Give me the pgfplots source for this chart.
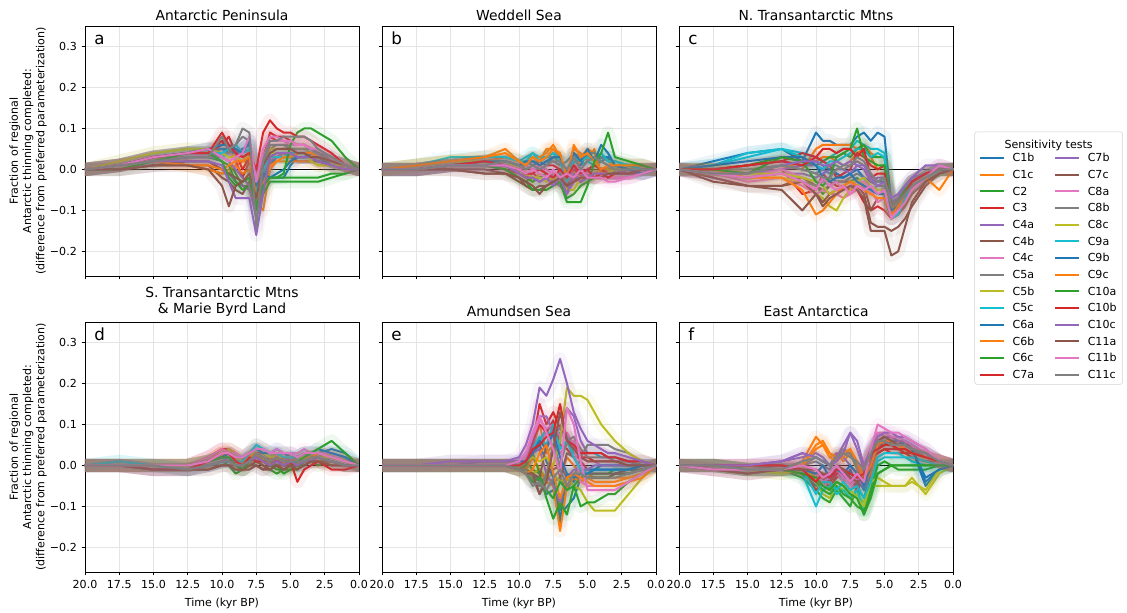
\documentclass[border=0pt]{standalone}
\usepackage{fontspec}
\setmainfont{DejaVu Sans}
\usepackage{pgfplots}
\usepackage{pgfplotstable}
\pgfplotsset{compat=1.18}
\usepgfplotslibrary{groupplots}

\definecolor{tabblue}{HTML}{1F77B4}
\definecolor{taborange}{HTML}{FF7F0E}
\definecolor{tabgreen}{HTML}{2CA02C}
\definecolor{tabred}{HTML}{D62728}
\definecolor{tabpurple}{HTML}{9467BD}
\definecolor{tabbrown}{HTML}{8C564B}
\definecolor{tabpink}{HTML}{E377C2}
\definecolor{tabgray}{HTML}{7F7F7F}
\definecolor{tabolive}{HTML}{BCBD22}
\definecolor{tabcyan}{HTML}{17BECF}
\colorlet{c1}{tabblue}\colorlet{c2}{taborange}\colorlet{c3}{tabgreen}\colorlet{c4}{tabred}\colorlet{c5}{tabpurple}
\colorlet{c6}{tabbrown}\colorlet{c7}{tabpink}\colorlet{c8}{tabgray}\colorlet{c9}{tabolive}\colorlet{c10}{tabcyan}
\colorlet{c11}{tabblue}\colorlet{c12}{taborange}\colorlet{c13}{tabgreen}\colorlet{c14}{tabred}\colorlet{c15}{tabpurple}
\colorlet{c16}{tabbrown}\colorlet{c17}{tabpink}\colorlet{c18}{tabgray}\colorlet{c19}{tabolive}\colorlet{c20}{tabcyan}
\colorlet{c21}{tabblue}\colorlet{c22}{taborange}\colorlet{c23}{tabgreen}\colorlet{c24}{tabred}\colorlet{c25}{tabpurple}
\colorlet{c26}{tabbrown}\colorlet{c27}{tabpink}\colorlet{c28}{tabgray}

% values in hundredths (0.01) of the fraction; one row per sensitivity test
\pgfplotstableread[header=true]{
name 20 17.5 15 12.5 11 10 9.5 9 8.5 8 7.5 7 6.5 6 5.5 5 4.5 4 3.5 3 2 1 0
s1 0 1 3 4 5 5 4 4 5 6 -3 -1 -2 -2 -2 1 3 3 3 3 2 1 0
s2 0 1 3 1 0 -1 -1 1 2 2 -5 -1 3 3 3 3 3 3 3 2 2 1 0
s3 0 1 3 4 4 3 2 -1 -4 -4 -8 -4 -2 -2 -2 -2 -2 -2 -2 -2 -1 -1 0
s4 0 1 3 4 4 7 5 2 -2 2 -3 2 9 8 8 7 6 6 5 4 2 1 0
s5 0 0 1 2 2 0 -1 -3 -4 -5 -10 -3 4 4 4 3 3 3 3 2 1 0 0
s6 0 0 1 1 1 -2 -3 -5 -6 -3 -6 -1 2 3 3 3 2 2 2 2 1 0 0
s7 0 1 3 3 3 4 4 3 2 5 -4 1 6 6 6 5 5 5 4 4 2 1 0
s8 0 1 3 4 4 5 5 4 5 6 -5 0 5 6 6 6 6 6 5 4 3 1 0
s9 0 2 4 5 4 4 4 3 4 5 -2 0 5 5 5 5 5 5 4 4 2 1 0
s10 0 1 3 4 4 3 4 5 3 4 -4 -1 2 3 3 3 3 3 3 3 2 1 0
s11 0 1 3 4 5 5 5 4 5 6 -5 -2 1 3 4 4 4 4 3 3 1 1 0
s12 0 1 2 1 0 -1 0 1 -1 0 -8 -10 0 2 2 2 2 2 2 1 1 0 0
s13 0 1 2 3 3 2 1 -3 -5 -4 -10 -6 -3 -3 -3 -3 -3 -3 -3 -3 -2 -1 0
s14 0 1 3 4 4 6 8 4 0 3 -1 3 8 7 7 6 6 6 5 4 2 1 0
s15 0 1 2 3 3 3 2 0 -2 -4 -12 -5 2 3 4 4 3 3 3 3 2 1 0
s16 0 0 1 2 2 0 -1 -2 -3 -2 -7 0 3 4 4 4 3 3 3 2 1 1 0
s17 0 1 3 4 3 4 4 2 4 7 -2 3 7 7 7 6 6 6 5 4 2 1 0
s18 0 1 2 3 3 4 4 6 8 7 -9 1 6 6 6 5 5 5 5 4 2 1 0
s19 0 2 4 5 5 4 3 3 2 4 -6 1 4 4 4 4 4 4 2 1 1 1 0
s20 0 1 3 4 4 4 5 6 4 5 -6 0 3 3 3 4 4 4 4 3 2 1 0
s21 0 1 3 4 5 6 6 5 4 7 -4 -1 -2 -1 0 2 3 3 4 3 2 1 0
s22 0 1 2 1 1 0 1 2 2 3 -7 -4 1 2 3 3 4 4 4 3 2 1 0
s23 0 0 2 4 4 2 -2 -4 -3 -2 -9 -4 -2 -2 -1 6 9 10 10 9 7 3 0
s24 0 1 3 4 4 9 6 4 3 4 0 9 12 10 9 9 8 8 7 6 4 1 0
s25 0 1 2 2 2 1 -3 -7 -7 -7 -16 -6 3 4 4 4 3 3 3 2 1 0 0
s26 0 0 1 1 0 -4 -9 -4 -3 -1 -7 1 4 5 5 5 4 4 3 3 2 1 0
s27 0 1 3 4 5 3 2 3 4 8 -3 5 8 8 7 7 6 6 5 5 3 1 0
s28 0 1 2 3 3 8 5 6 10 9 -14 2 7 7 8 8 8 8 7 5 3 1 0
}\rawA
\pgfplotstableread[header=true]{
name 20 17.5 15 12.5 11 10 9.5 9 8.5 8 7.5 7 6.5 6 5.5 5 4.5 4 3.5 3 2 1 0
s1 0 0 1 2 2 1 2 1 2 1 3 2 -1 1 -2 0 1 2 3 -1 -1 -1 0
s2 0 1 2 3 5 2 1 3 2 5 5 3 -3 5 4 2 5 -1 0 1 1 0 0
s3 0 0 1 1 0 -2 -3 -2 -3 -2 -2 -1 -4 -3 -2 -2 -1 -1 -1 -1 -1 0 0
s4 0 0 1 1 0 -1 -2 -1 -2 -1 -2 -3 -1 -2 -3 -1 -2 -2 -1 -1 -1 -1 0
s5 0 0 1 1 1 0 -1 -2 -2 -3 -1 -2 -5 1 -2 -1 -2 -1 -1 -1 0 0 0
s6 0 0 0 -1 -1 -3 -4 -5 -4 -4 -3 -2 -3 -1 -2 -2 -1 -1 -1 -1 0 0 0
s7 0 0 1 1 1 0 -1 -1 1 0 -1 -2 0 -1 -2 -1 -2 -1 -2 -2 -2 -1 0
s8 0 0 1 2 2 1 1 2 1 2 2 1 2 4 2 3 3 2 1 1 1 1 0
s9 0 1 2 2 2 1 -2 -3 -1 -2 -3 -4 -5 0 -3 -1 -1 0 0 0 0 0 0
s10 0 1 3 3 3 2 3 4 3 3 4 3 -4 2 1 2 1 3 2 1 0 -1 0
s11 0 0 1 2 2 1 2 3 2 3 3 2 -2 3 1 4 2 3 3 1 0 -1 0
s12 0 1 2 2 3 2 2 3 3 4 6 3 -5 -2 3 5 4 -1 1 2 1 1 0
s13 0 0 1 1 1 -1 -2 -3 -2 -1 -2 -3 -7 -6 -4 -3 -2 -1 -1 -1 0 0 0
s14 0 0 1 2 2 1 0 1 0 1 1 0 -2 0 -1 0 1 0 -1 -1 0 0 0
s15 0 0 1 1 1 0 -1 -2 -3 -2 -3 -4 -6 -3 -2 -1 -1 -1 -1 -1 0 0 0
s16 0 0 0 0 -1 -2 -4 -5 -5 -4 -3 -3 -4 -2 -3 -2 -1 -1 -1 -1 -1 0 0
s17 0 0 1 1 1 0 1 0 1 -1 -2 -3 -3 1 0 -1 -1 -1 -2 -2 -2 -1 0
s18 0 0 1 2 2 1 1 2 2 3 3 2 -3 4 3 4 4 3 2 2 1 1 0
s19 0 1 2 2 2 0 -1 -2 -2 -3 -2 -3 -5 -5 -2 -2 -1 -1 -1 0 0 0 0
s20 0 1 2 3 3 2 2 4 2 3 4 2 -3 3 2 3 2 4 2 2 1 0 0
s21 0 0 1 2 2 1 2 2 1 2 3 3 -1 4 2 5 2 6 4 1 0 -1 0
s22 0 1 2 3 4 2 1 3 2 3 5 4 -2 6 3 4 2 0 1 1 1 1 0
s23 0 0 1 1 0 -2 -3 -5 -5 -5 -4 -3 -8 -8 -8 -4 2 4 9 3 2 1 0
s24 0 0 1 2 1 0 -1 -1 0 -1 -2 0 -2 1 -1 0 -2 -1 -2 -1 -1 0 0
s25 0 0 1 1 1 -1 -2 -2 -3 -2 -4 -2 -6 -1 -3 -2 -1 -1 -1 -1 -1 0 0
s26 0 0 0 -1 -1 -2 -3 -4 -6 -4 -3 -2 -4 -3 -2 -2 -2 -2 -1 -1 -1 0 0
s27 0 0 1 1 1 0 -1 0 -1 -2 0 -2 -1 -2 0 -2 -2 -2 -3 -3 -2 -1 0
s28 0 0 1 1 2 1 0 1 0 1 2 2 0 3 0 2 3 2 1 0 0 0 0
}\rawB
\pgfplotstableread[header=true]{
name 20 17.5 15 12.5 11 10 9.5 9 8.5 8 7.5 7 6.5 6 5.5 5 4.5 4 3.5 3 2 1 0
s1 0 2 4 5 2 9 7 7 6 6 6 8 9 7 9 8 -8 -7 -5 -3 -1 0 0
s2 0 0 -1 1 0 5 6 6 6 6 6 5 6 4 3 3 -9 -8 -6 -3 -1 0 0
s3 0 -1 -2 -1 -2 -4 -6 -4 -3 -3 -3 -2 -4 -6 -5 -5 -10 -9 -7 -4 -2 0 0
s4 0 0 -1 0 -6 -5 -1 -3 -4 -4 -5 -5 -8 -10 -9 -10 -12 -11 -8 -5 -2 0 0
s5 0 -1 -2 -1 -1 -2 -1 0 -1 -2 -1 -3 -2 -5 -4 -4 -10 -9 -6 -3 -1 0 0
s6 0 -2 -4 -4 -2 -4 -5 -4 -3 -3 -3 -3 -4 -10 -7 -7 -12 -11 -9 -6 -3 -1 0
s7 0 -1 -3 -2 -4 -6 -5 -6 -6 -7 -6 -5 -4 -6 -5 -5 -10 -9 -6 -3 -1 1 0
s8 0 -1 -2 -1 -3 -4 -3 -2 -3 -3 -2 -1 -2 -3 -4 -4 -9 -8 -6 -4 -2 0 0
s9 0 -1 -2 -2 -3 -6 -7 -9 -10 -7 -5 -4 -3 -5 -6 -6 -11 -10 -7 -4 -1 0 0
s10 0 1 4 5 4 3 2 3 4 5 5 7 6 5 5 4 -10 -9 -6 -3 -1 0 0
s11 0 0 1 2 1 2 1 0 -1 -2 -1 0 -2 -3 -3 -3 -8 -8 -6 -4 -2 0 0
s12 0 0 -1 0 2 2 3 3 2 1 2 4 5 3 0 1 -9 -9 -6 -3 -1 0 0
s13 0 0 1 3 2 1 2 3 3 4 3 5 6 3 3 3 -9 -7 -5 -3 -1 0 0
s14 0 0 1 2 4 3 2 1 -2 -1 0 4 3 1 0 1 -11 -10 -7 -4 -2 0 0
s15 0 -1 -1 0 1 1 0 -1 0 0 -1 1 0 -3 -2 -2 -8 -7 -4 -2 -1 0 0
s16 0 -2 -4 -4 -3 -6 -8 -6 -5 -5 -4 -4 -6 -13 -14 -14 -15 -14 -12 -9 -4 -1 0
s17 0 -1 -2 0 -2 -3 -3 -4 -3 -5 -4 -3 -3 -5 -8 -7 -11 -10 -6 -4 -1 1 0
s18 0 0 0 1 0 -1 0 1 1 0 1 2 1 -1 -3 -2 -8 -8 -6 -4 -2 0 0
s19 0 0 -1 -1 -2 -3 -4 -6 -5 -4 -3 -3 -2 -4 -5 -5 -10 -9 -7 -4 -2 0 0
s20 0 1 3 5 3 1 0 2 2 3 4 5 5 3 4 3 -12 -11 -7 -4 -2 0 0
s21 0 1 2 3 3 1 -2 -3 -2 -2 -1 -3 -4 -5 -6 -6 -10 -9 -6 -3 -1 0 0
s22 0 0 -2 -2 -5 -11 -10 -8 -6 -4 -3 -4 -5 -6 -7 -7 -11 -9 -6 -4 -2 -5 0
s23 0 0 -1 3 2 -3 -4 -2 3 4 5 10 3 2 1 1 -9 -8 -5 -3 -1 0 0
s24 0 0 1 2 1 3 5 5 4 5 5 3 5 -2 -1 -1 -9 -8 -6 -3 -1 0 0
s25 0 -1 -1 1 2 2 1 1 2 1 2 1 1 -2 -4 -3 -7 -6 -4 -2 1 1 0
s26 0 -3 -4 -5 -10 -6 -9 -7 -6 -5 -4 -5 -7 -15 -15 -15 -21 -20 -14 -8 -3 -1 0
s27 0 -1 -2 -1 -3 -5 -2 -4 -5 -4 -6 -4 -5 -4 -6 -5 -12 -10 -8 -5 -2 1 0
s28 0 -1 -1 1 0 -1 -2 -2 0 1 1 3 2 -1 -3 -2 -9 -8 -6 -4 -2 0 0
}\rawC
\pgfplotstableread[header=true]{
name 20 17.5 15 12.5 11 10 9.5 9 8.5 8 7.5 7 6.5 6 5.5 5 4.5 4 3.5 3 2 1 0
s1 0 0 0 0 1 2 2 1 1 2 3 3 2 3 1 2 1 2 2 2 3 2 0
s2 0 0 0 0 1 3 3 2 1 3 4 3 2 3 2 1 2 3 2 1 2 1 0
s3 0 0 0 0 0 1 0 -2 -1 0 1 0 -1 -2 -1 -1 0 1 1 0 1 0 0
s4 0 0 0 0 2 4 4 3 2 1 2 1 2 1 1 0 1 1 1 1 0 0 0
s5 0 0 -1 -1 0 1 1 0 -1 0 0 -1 0 1 0 1 0 0 1 1 1 0 0
s6 0 0 -1 -1 -1 0 0 -1 -1 0 0 -1 0 0 -1 0 0 0 1 1 1 0 0
s7 0 0 0 0 2 3 4 3 2 3 4 4 3 3 2 3 2 3 3 3 2 1 0
s8 0 0 0 -1 0 1 1 0 0 1 2 1 0 1 0 1 0 1 2 2 1 0 0
s9 0 0 0 0 1 2 4 3 2 3 5 4 3 2 3 2 1 2 2 1 1 0 0
s10 0 1 0 -1 0 1 1 1 1 2 4 3 2 1 0 0 -1 1 2 2 1 0 0
s11 0 0 0 0 1 2 3 2 1 2 4 3 3 4 3 2 2 3 3 3 4 3 0
s12 0 0 0 0 1 2 2 1 0 2 3 1 1 2 1 0 1 2 2 2 3 1 0
s13 0 0 0 0 1 2 2 0 -1 1 3 2 1 0 -2 -1 -1 1 2 3 2 1 0
s14 0 0 0 0 2 4 3 2 1 2 3 3 2 1 2 1 1 2 2 2 1 0 0
s15 0 0 -1 -1 0 1 2 1 1 2 3 2 1 1 1 2 1 1 2 2 2 1 0
s16 0 0 -1 -1 0 0 0 0 -1 0 1 0 -1 0 0 0 0 1 1 1 1 0 0
s17 0 0 0 0 2 4 3 3 2 3 5 4 3 4 3 3 3 4 3 3 3 1 0
s18 0 0 0 -1 0 1 1 1 0 1 2 1 1 2 1 1 1 2 2 2 2 1 0
s19 0 0 0 0 1 3 3 2 1 2 4 3 2 2 2 2 2 2 2 2 2 1 0
s20 0 1 0 -1 1 2 2 1 1 3 5 4 3 3 2 2 2 3 3 3 2 1 0
s21 0 0 0 0 1 2 3 2 2 3 4 3 3 3 3 3 2 3 3 4 3 2 0
s22 0 0 0 0 1 3 3 1 0 2 3 2 1 2 1 1 1 2 2 3 2 1 0
s23 0 0 0 0 1 2 2 0 -1 1 2 1 0 -1 -1 0 1 2 3 4 6 3 0
s24 0 0 -1 -1 1 3 3 1 0 2 1 1 0 1 0 1 -4 -1 0 1 -1 -1 0
s25 0 0 -1 -1 0 1 1 0 0 1 2 1 0 1 0 1 0 1 1 2 1 0 0
s26 0 0 -1 -1 -1 0 0 -1 -1 -1 0 -1 -1 0 -1 0 -1 0 1 1 0 0 0
s27 0 0 0 0 1 3 3 2 2 3 4 4 3 3 3 3 2 3 3 3 2 1 0
s28 0 0 0 -1 0 1 1 0 0 1 3 2 1 2 1 1 1 1 2 2 1 0 0
}\rawD
\pgfplotstableread[header=true]{
name 20 17.5 15 12.5 11 10 9.5 9 8.5 8 7.5 7 6.5 6 5.5 5 4.5 4 3.5 3 2 1 0
s1 0 0 0 0 0 0 -1 -2 -4 -7 -6 -12 -10 -8 -3 -3 -3 -3 -3 -2 -2 -1 0
s2 0 0 0 0 0 0 0 4 10 3 5 -3 2 0 -2 -2 -3 -3 -3 -3 -3 -2 0
s3 0 0 0 0 0 0 1 -1 -2 -3 -4 -11 -3 -2 -4 -3 -3 -3 -3 -2 -2 -1 0
s4 0 0 0 0 0 -1 0 5 15 10 13 9 7 5 1 -1 -1 -1 -1 -1 -1 0 0
s5 0 0 1 1 1 1 3 5 12 12 8 9 14 12 6 3 3 3 2 2 1 1 0
s6 0 0 0 0 0 -1 -2 -4 -5 -2 -1 0 -3 -2 -4 -3 -3 -3 -3 -2 -2 -1 0
s7 0 0 0 0 0 0 1 4 6 8 7 3 5 6 2 1 1 0 0 0 0 0 0
s8 0 0 0 0 0 -1 -2 -4 -5 -3 -4 -3 -6 -3 2 5 5 5 5 4 3 1 0
s9 0 0 0 0 0 0 -1 -2 -1 -3 -2 -4 -3 -5 -6 -9 -11 -11 -11 -11 -7 -3 0
s10 0 0 0 0 0 0 1 3 6 9 4 8 7 3 3 3 3 2 2 2 1 0 0
s11 0 0 0 0 0 0 1 3 5 1 -3 -14 -2 -4 -1 -1 -1 0 0 0 0 0 0
s12 0 0 0 0 0 0 -1 2 -1 -4 -5 -16 -5 -3 -4 -3 -4 -4 -4 -4 -3 -2 0
s13 0 0 0 0 0 -1 0 3 -2 -8 -13 -9 -12 -5 -3 -2 -2 -2 -2 -1 -1 -1 0
s14 0 0 0 0 0 0 1 6 10 8 11 5 4 2 2 2 1 1 1 1 1 0 0
s15 0 0 0 1 1 1 1 3 4 -2 -5 -9 -3 -1 -1 -1 0 0 0 0 0 0 0
s16 0 0 0 0 0 -1 -1 -2 -3 5 8 -3 3 2 -1 -2 -2 -2 -2 -2 -1 -1 0
s17 0 0 0 0 0 0 2 7 11 9 10 7 8 5 -4 -5 -5 -5 -5 -5 -4 -2 0
s18 0 0 0 0 0 -1 -1 -3 -7 -2 5 0 6 7 4 2 2 2 2 1 1 0 0
s19 0 0 0 0 0 0 1 2 1 2 0 6 19 17 17 16 13 10 8 6 3 1 0
s20 0 0 0 0 0 0 1 4 7 5 10 4 6 2 -1 -2 -1 -1 -1 -1 -1 0 0
s21 0 0 0 0 0 1 1 3 6 4 8 2 -2 -3 -2 -2 -1 -1 -1 -1 -1 0 0
s22 0 0 0 0 0 -1 -2 -1 3 5 -2 -8 -3 -2 -3 -4 -5 -5 -5 -5 -4 -3 0
s23 0 0 0 0 0 -1 -2 -4 -3 -6 -8 -4 -6 -5 -10 -9 -9 -8 -7 -7 -4 -2 0
s24 0 0 0 0 0 0 1 4 5 7 8 15 6 5 3 3 3 3 2 2 1 1 0
s25 0 0 1 1 1 2 5 10 19 17 21 26 20 13 9 6 5 4 3 3 2 1 0
s26 0 0 0 0 0 -1 -2 -2 -7 -4 4 13 6 4 2 1 1 1 1 1 0 0 0
s27 0 0 0 0 0 1 3 8 12 8 4 -2 14 10 1 -6 -6 -6 -6 -6 -4 -2 0
s28 0 0 0 0 0 -1 -2 -5 -4 -6 -3 -1 -5 -2 -2 -3 -3 -3 -3 -3 -2 -1 0
}\rawE
\pgfplotstableread[header=true]{
name 20 17.5 15 12.5 11 10 9.5 9 8.5 8 7.5 7 6.5 6 5.5 5 4.5 4 3.5 3 2 1 0
s1 0 0 -1 0 -2 -5 -3 -6 -2 -4 -1 -5 -8 -2 4 5 6 5 6 4 -5 -1 0
s2 0 0 -1 -1 1 7 5 2 3 1 3 -1 -6 1 6 7 7 6 5 4 2 1 0
s3 0 0 -1 -1 -3 -6 -8 -9 -6 -8 -10 -5 -12 -8 -2 -1 0 -1 -1 -1 -1 0 0
s4 0 0 0 0 -1 -6 -4 -5 -3 -2 -4 -6 -3 1 3 4 3 3 3 2 1 1 0
s5 0 0 0 1 2 3 2 0 3 2 0 -2 -1 4 6 6 5 5 6 5 3 1 0
s6 0 -1 -2 -1 -1 -2 -3 -2 0 -1 -3 -5 -2 3 5 6 5 4 4 3 2 1 0
s7 0 -1 -2 -1 0 -3 -5 -4 -2 -4 -6 -3 -4 4 8 7 6 6 5 4 3 1 0
s8 0 0 -1 -1 0 1 0 -1 2 4 3 -1 -3 2 6 6 6 5 5 4 3 1 0
s9 0 0 -1 -2 -1 -4 -7 -8 -5 -6 -8 -7 -9 -5 -5 -5 -5 -5 -5 -3 -7 -2 0
s10 0 0 -1 -1 -2 -10 -6 -5 -7 -6 -8 -6 -11 -6 1 2 2 2 2 1 0 0 0
s11 0 0 -1 -1 -1 -3 -2 -4 -1 -3 -2 -3 -6 -1 5 5 6 6 5 4 -4 -1 0
s12 0 0 -1 -1 0 5 6 3 2 2 4 0 -4 -2 4 5 5 4 4 3 2 1 0
s13 0 0 -1 -1 -2 -4 -6 -7 -5 -7 -8 -10 -11 -6 0 1 0 0 0 0 0 0 0
s14 0 0 0 0 -1 -3 -3 -4 -2 -1 -3 -4 -2 2 3 4 4 4 3 3 2 1 0
s15 0 0 0 1 3 2 1 0 2 5 8 4 -1 3 6 7 7 6 6 5 3 1 0
s16 0 -1 -2 -1 -1 -2 -3 -3 -1 -2 -4 -5 -3 2 5 6 5 5 4 3 2 1 0
s17 0 -1 -1 -1 0 -2 -4 -3 -1 -3 -5 -3 -5 3 8 8 7 7 6 5 3 1 0
s18 0 0 -1 -1 0 2 1 0 2 3 3 0 -2 3 6 6 5 5 5 4 2 1 0
s19 0 0 -1 -2 -1 -3 -5 -6 -4 -5 -6 -8 -10 -4 -3 -4 -5 -5 -5 -4 -6 -1 0
s20 0 0 -1 -1 -1 -7 -4 -4 -6 -4 -6 -5 -8 -4 2 3 3 3 2 2 1 0 0
s21 0 0 -1 -1 -1 -2 0 -3 -1 -2 0 -2 -5 0 5 6 6 5 5 4 -3 -1 0
s22 0 0 -1 -1 0 4 5 2 1 3 4 1 -3 0 5 6 6 5 4 3 2 1 0
s23 0 0 -1 -1 -2 -3 -5 -6 -4 -5 -7 -8 -12 -7 -2 -1 0 0 0 0 0 0 0
s24 0 0 0 0 -1 -4 -2 -3 -1 -1 -2 -3 -2 3 4 5 5 4 4 3 2 1 0
s25 0 0 0 1 3 2 1 0 1 3 8 6 0 4 7 8 8 7 7 6 4 1 0
s26 0 -1 -2 -1 -1 -1 -2 -2 0 -1 -3 -4 -3 3 6 7 6 5 5 4 3 1 0
s27 0 -1 -1 -1 0 -1 -3 -2 0 -2 -4 -2 -4 4 10 9 8 8 7 6 4 1 0
s28 0 0 -1 -1 1 2 1 0 2 3 2 1 -1 3 6 6 5 5 5 4 3 1 0
}\rawF
\pgfplotstabletranspose[colnames from=name,input colnames to=t]\tabA{\rawA}
\pgfplotstabletranspose[colnames from=name,input colnames to=t]\tabB{\rawB}
\pgfplotstabletranspose[colnames from=name,input colnames to=t]\tabC{\rawC}
\pgfplotstabletranspose[colnames from=name,input colnames to=t]\tabD{\rawD}
\pgfplotstabletranspose[colnames from=name,input colnames to=t]\tabE{\rawE}
\pgfplotstabletranspose[colnames from=name,input colnames to=t]\tabF{\rawF}

\newcommand{\ser}[2]{%
  \addplot[forget plot, draw=c#2, line width=10pt, opacity=0.075, line join=round, line cap=round] table[x=t, y=s#2] {#1};
  \addplot[forget plot, draw=c#2, line width=1.5pt, line join=round] table[x=t, y=s#2] {#1};
}
\newcommand{\allser}[1]{%
  \addplot[forget plot, black, line width=0.8pt] coordinates {(20,0) (0,0)};
  \pgfplotsinvokeforeach{1,...,28}{\ser{#1}{##1}}}
\newcommand{\lett}[1]{\node[anchor=base west, inner sep=0pt, font=\fontsize{12.5}{15}\selectfont] at (axis description cs:0.033,0.927) {#1};}

\begin{document}
\begin{tikzpicture}
\begin{scope}[overlay]
\begin{groupplot}[
  group style={group size=3 by 2, horizontal sep=17.25pt, vertical sep=34.5pt,
    xticklabels at=edge bottom, yticklabels at=edge left,
    xlabels at=edge bottom, ylabels at=edge left},
  width=205.5pt, height=187.5pt, scale only axis,
  xmin=0, xmax=20, x dir=reverse, ymin=-26, ymax=35,
  xtick={20,17.5,15,12.5,10,7.5,5,2.5,0},
  xticklabels={20.0,17.5,15.0,12.5,10.0,7.5,5.0,2.5,0.0},
  ytick={-20,-10,0,10,20,30},
  yticklabels={−0.2,−0.1,0.0,0.1,0.2,0.3},
  tick align=outside, tick pos=left, major tick length=2.6pt,
  tick style={black, line width=0.6pt},
  grid=major, major grid style={gray!20, line width=0.6pt},
  axis line style={line width=0.6pt},
  tick label style={font=\fontsize{8.3}{10}\selectfont},
  title style={font=\fontsize{10.4}{12.5}\selectfont, align=center, yshift=-5.5pt},
  label style={font=\fontsize{8.3}{10}\selectfont},
  xlabel={Time (kyr BP)},
  ylabel={Fraction of regional\\Antarctic thinning completed:\\(difference from preferred parameterization)},
  ylabel style={align=center, yshift=-4.5pt},
]
\nextgroupplot[title={Antarctic Peninsula}]
\allser{\tabA}
\lett{a}
\nextgroupplot[title={Weddell Sea}]
\allser{\tabB}
\lett{b}
\nextgroupplot[title={N. Transantarctic Mtns},
  legend columns=2,
  legend cell align=left,
  legend image code/.code={\draw[#1, line width=1.5pt] (0pt,0pt) -- (18.5pt,0pt);},
  legend style={at={(1.078,0.578)}, anchor=north west, draw=gray!35, rounded corners=2pt,
    font=\fontsize{8.3}{10}\selectfont, row sep=2pt,
    nodes={inner sep=1.5pt, text height=6.5pt, text depth=1pt},
    /tikz/every odd column/.append style={column sep=4pt},
    /tikz/every even column/.append style={column sep=13pt},
    label={[anchor=north, yshift=-3pt, font=\fontsize{8.3}{10}\selectfont]north:Sensitivity tests}},
]
\allser{\tabC}
\lett{c}
\addlegendimage{empty legend}\addlegendentry{}
\addlegendimage{empty legend}\addlegendentry{}
\addlegendimage{c1}\addlegendentry{C1b}
\addlegendimage{c15}\addlegendentry{C7b}
\addlegendimage{c2}\addlegendentry{C1c}
\addlegendimage{c16}\addlegendentry{C7c}
\addlegendimage{c3}\addlegendentry{C2}
\addlegendimage{c17}\addlegendentry{C8a}
\addlegendimage{c4}\addlegendentry{C3}
\addlegendimage{c18}\addlegendentry{C8b}
\addlegendimage{c5}\addlegendentry{C4a}
\addlegendimage{c19}\addlegendentry{C8c}
\addlegendimage{c6}\addlegendentry{C4b}
\addlegendimage{c20}\addlegendentry{C9a}
\addlegendimage{c7}\addlegendentry{C4c}
\addlegendimage{c21}\addlegendentry{C9b}
\addlegendimage{c8}\addlegendentry{C5a}
\addlegendimage{c22}\addlegendentry{C9c}
\addlegendimage{c9}\addlegendentry{C5b}
\addlegendimage{c23}\addlegendentry{C10a}
\addlegendimage{c10}\addlegendentry{C5c}
\addlegendimage{c24}\addlegendentry{C10b}
\addlegendimage{c11}\addlegendentry{C6a}
\addlegendimage{c25}\addlegendentry{C10c}
\addlegendimage{c12}\addlegendentry{C6b}
\addlegendimage{c26}\addlegendentry{C11a}
\addlegendimage{c13}\addlegendentry{C6c}
\addlegendimage{c27}\addlegendentry{C11b}
\addlegendimage{c14}\addlegendentry{C7a}
\addlegendimage{c28}\addlegendentry{C11c}
\nextgroupplot[title={S. Transantarctic Mtns\\\& Marie Byrd Land}]
\allser{\tabD}
\lett{d}
\nextgroupplot[title={Amundsen Sea}]
\allser{\tabE}
\lett{e}
\nextgroupplot[title={East Antarctica}]
\allser{\tabF}
\lett{f}
\end{groupplot}
\end{scope}
\path ([xshift=-63.75pt,yshift=19.5pt]group c1r1.north west) rectangle ([xshift=781.5pt,yshift=-439.5pt]group c1r1.north west);
\end{tikzpicture}
\end{document}
